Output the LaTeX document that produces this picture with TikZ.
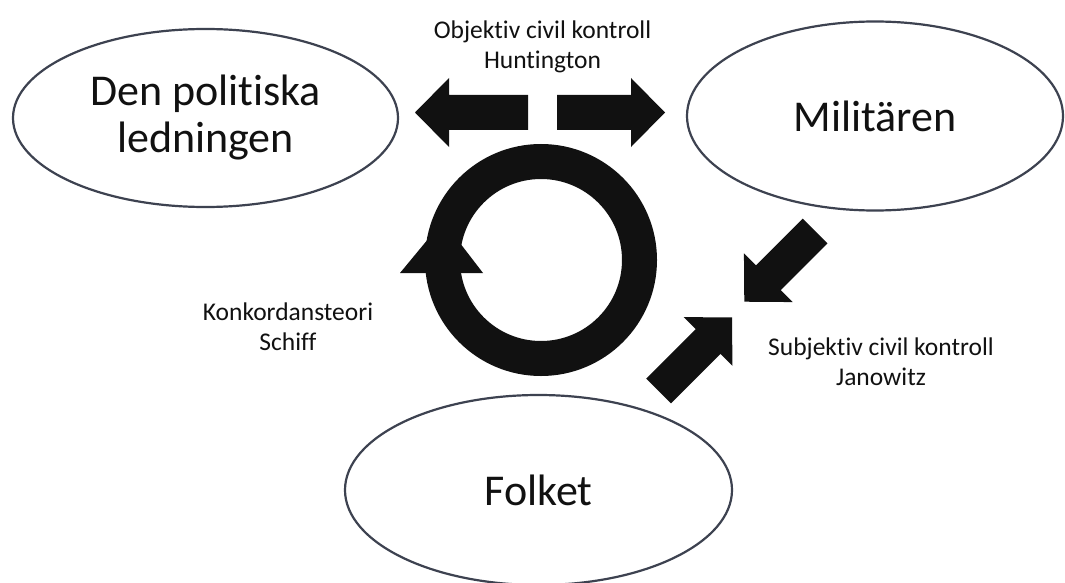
\documentclass[tikz,border=0pt]{standalone}
\usepackage{fontspec}
\setmainfont{Carlito}[Ligatures=NoCommon]
\usetikzlibrary{shapes.geometric}
\definecolor{rim}{HTML}{3D4250}
\definecolor{ink}{HTML}{111111}
\tikzset{
  actor/.style={ellipse,draw=rim,line width=2.2pt,fill=white,inner sep=0pt,align=center,text=ink,font=\fontsize{44}{47}\selectfont},
  theory/.style={inner sep=0pt,align=center,text=ink,font=\fontsize{25.5}{30}\selectfont},
  pics/fatarrow/.style={code={
    \fill[ink] (0,-17.5) -- ({#1-34},-17.5) -- ({#1-34},-34.5) -- (#1,0) -- ({#1-34},34.5) -- ({#1-34},17.5) -- (0,17.5) -- cycle;}},
}

\begin{document}
\begin{tikzpicture}[x=1pt,y=-1pt]
    \useasboundingbox (0,0) rectangle (1065,583);
    \fill[white] (0,0) rectangle (1065,583);
    % the three actors
    \node[actor,minimum width=385pt,minimum height=178pt] (leader) at (205.5,118) {Den politiska\\ledningen};
    \node[actor,minimum width=376pt,minimum height=189pt] (army) at (875,116) {Militären};
    \node[actor,minimum width=387pt,minimum height=190pt] (people) at (538.5,490) {Folket};
    % block arrows, tail centre + length
    \pic[rotate=180] at (528,112.5) {fatarrow=113};
    \pic at (557,112.5) {fatarrow=108};
    \pic[rotate=225] at (815,231) {fatarrow=100};
    \pic[rotate=45] at (658.5,391) {fatarrow=104};
    % circular arrow
    \coordinate (cyc) at (541,260);
    \draw[ink,line width=35pt] (cyc) circle (98.5pt);
    \fill[ink] (400,273) -- (483,273) -- (443,221) -- cycle;
    % labels
    \node[theory] (objective) at (542.5,47) {Objektiv civil kontroll\\Huntington};
    \node[theory] (concord) at (288,327) {Konkordansteori\\Schiff};
    \node[theory] (subjective) at (881,362) {Subjektiv civil kontroll\\Janowitz};
  \end{tikzpicture}
\end{document}
